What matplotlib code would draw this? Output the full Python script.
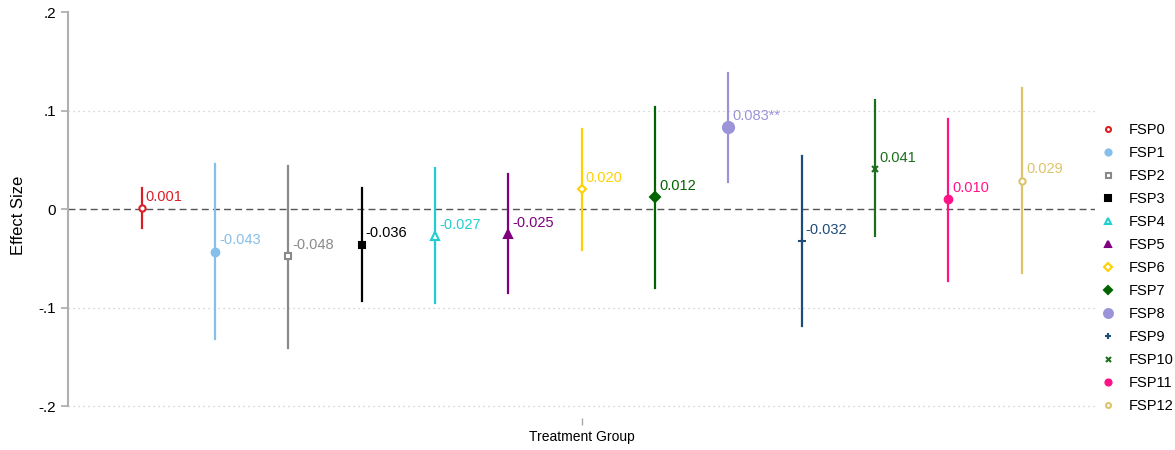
import matplotlib.pyplot as plt

plt.rcParams['font.family'] = ['Liberation Sans', 'DejaVu Sans']

groups = ['FSP0', 'FSP1', 'FSP2', 'FSP3', 'FSP4', 'FSP5', 'FSP6',
          'FSP7', 'FSP8', 'FSP9', 'FSP10', 'FSP11', 'FSP12']
effects = [0.001, -0.043, -0.048, -0.036, -0.027, -0.025, 0.020,
           0.012, 0.083, -0.032, 0.041, 0.010, 0.029]
ci_low = [-0.019, -0.132, -0.141, -0.093, -0.095, -0.085, -0.041,
          -0.080, 0.028, -0.119, -0.027, -0.073, -0.065]
ci_high = [0.021, 0.046, 0.044, 0.022, 0.042, 0.036, 0.081,
           0.104, 0.138, 0.054, 0.111, 0.092, 0.123]
labels = ['0.001', '-0.043', '-0.048', '-0.036', '-0.027', '-0.025', '0.020',
          '0.012', '0.083**', '-0.032', '0.041', '0.010', '0.029']

colors = ['#d81f26', '#86bfe9', '#8a8a8a', '#000000', '#1fcfcf', '#800080', '#ffd000',
          '#006400', '#9b94d9', '#1f4b78', '#1c6e1c', '#ff1487', '#dcc46c']
markers = ['o', 'o', 's', 's', '^', '^', 'D', 'D', 'o', '+', 'x', 'o', 'o']
filled = [False, True, False, True, False, True, False, True, True, True, True, True, False]
msizes = [4.5, 5.5, 4.5, 5, 5.5, 5.5, 4.5, 5, 8, 6, 4.5, 5.5, 4.5]

fig = plt.figure(figsize=(11.75, 4.5), dpi=100)
ax = fig.add_axes([0.058, 0.071, 0.874, 0.902])

for i in range(len(groups)):
    c = colors[i]
    ax.plot([i, i], [ci_low[i], ci_high[i]], color=c, lw=1.6, zorder=2)
    fc = c if filled[i] else 'white'
    ax.plot(i, effects[i], marker=markers[i], ms=msizes[i], color=c,
            markerfacecolor=fc, markeredgecolor=c, mew=1.5, ls='none',
            label=groups[i], zorder=3)
    ax.annotate(labels[i], (i, effects[i]), xytext=(3, 3),
                textcoords='offset points', color=c, fontsize=10.5,
                ha='left', va='bottom')

ax.axhline(0, color='#555555', lw=1, ls=(0, (5, 3)), zorder=1)
for g in [0.1, -0.1, -0.2]:
    ax.axhline(g, color='#c8c8c8', lw=0.9, ls=(0, (1, 3)), zorder=0)

ax.set_xlim(-1, 13)
ax.set_ylim(-0.212, 0.2)
ax.set_yticks([0.2, 0.1, 0, -0.1, -0.2])
ax.set_yticklabels(['.2', '.1', '0', '-.1', '-.2'])
ax.set_xticks([6])
ax.set_xticklabels(['Treatment Group'])
ax.tick_params(axis='y', colors='#aaaaaa', labelcolor='black', labelsize=11, length=5, width=1.2)
ax.tick_params(axis='x', colors='#aaaaaa', labelcolor='black', labelsize=10, length=5, width=1)
ax.set_ylabel('Effect Size', fontsize=12, labelpad=9)

for s in ['top', 'right', 'bottom']:
    ax.spines[s].set_visible(False)
ax.spines['left'].set_color('#b0b0b0')
ax.spines['left'].set_linewidth(1.5)
ax.spines['left'].set_bounds(-0.2, 0.2)

ax.legend(loc='center left', bbox_to_anchor=(1.0, 0.37), frameon=False,
          borderaxespad=0, fontsize=10.5, handlelength=1.0, handletextpad=0.9,
          labelspacing=0.62, markerscale=0.8)

fig.savefig('out.png', dpi=100)
